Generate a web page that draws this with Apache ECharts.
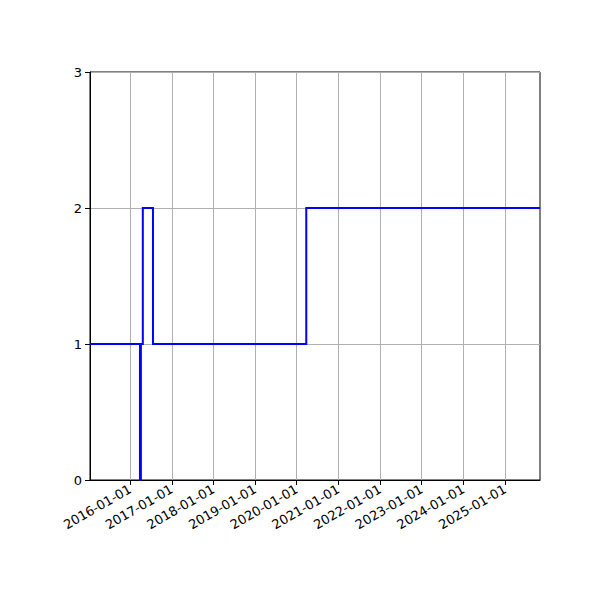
<!DOCTYPE html>
<html>
<head>
<meta charset="utf-8">
<script src="https://cdn.jsdelivr.net/npm/echarts@6/dist/echarts.min.js"></script>
<style>
  html, body { margin: 0; padding: 0; background: #fff; }
  #chart { width: 600px; height: 600px; }
</style>
</head>
<body>
<div id="chart"></div>
<script>
// step series: dates and values (post-step)
var dates = ['2015-01-15', '2016-03-28', '2016-04-05', '2016-04-22', '2016-07-20', '2020-03-25', '2025-11-03'];
var values = [1, 0, 1, 2, 1, 2, 2];
var tickLabels = ['2016-01-01', '2017-01-01', '2018-01-01', '2019-01-01', '2020-01-01',
                  '2021-01-01', '2022-01-01', '2023-01-01', '2024-01-01', '2025-01-01'];
var xMin = '2015-01-15';
var xMax = '2025-11-03';

function ts(s) { return new Date(s + 'T00:00:00Z').getTime(); }

var tickValues = tickLabels.map(ts);
var seriesData = dates.map(function (d, i) { return [ts(d), values[i]]; });

var chart = echarts.init(document.getElementById('chart'), null, { renderer: 'svg' });
chart.setOption({
    animation: false,
    backgroundColor: '#fff',
    grid: {
        left: 90, right: 60, top: 72, bottom: 120,
        show: true, borderColor: '#000', borderWidth: 1, backgroundColor: 'transparent'
    },
    xAxis: {
        type: 'value',
        min: ts(xMin),
        max: ts(xMax),
        axisLine: { show: true, lineStyle: { color: '#000', width: 1 } },
        axisTick: { show: true, length: 5, lineStyle: { color: '#000' }, customValues: tickValues },
        axisLabel: {
            customValues: tickValues,
            rotate: 30,
            color: '#000',
            fontFamily: 'DejaVu Sans',
            fontSize: 13,
            margin: 8,
            formatter: function (v) {
                var d = new Date(v);
                var m = d.getUTCMonth() + 1, day = d.getUTCDate();
                return d.getUTCFullYear() + '-' + (m < 10 ? '0' : '') + m + '-' + (day < 10 ? '0' : '') + day;
            }
        },
        splitLine: { show: true, lineStyle: { color: '#b0b0b0', width: 1 } }
    },
    yAxis: {
        type: 'value',
        min: 0,
        max: 3,
        interval: 1,
        axisLine: { show: true, lineStyle: { color: '#000', width: 1 } },
        axisTick: { show: true, length: 5, lineStyle: { color: '#000' } },
        axisLabel: { color: '#000', fontFamily: 'DejaVu Sans', fontSize: 13, margin: 8 },
        splitLine: { show: true, lineStyle: { color: '#b0b0b0', width: 1 } }
    },
    series: [{
        type: 'line',
        step: 'end',
        data: seriesData,
        showSymbol: false,
        lineStyle: { color: '#0000ff', width: 2, join: 'miter', miterLimit: 2 },
        itemStyle: { color: '#0000ff' }
    }]
});
</script>
</body>
</html>
